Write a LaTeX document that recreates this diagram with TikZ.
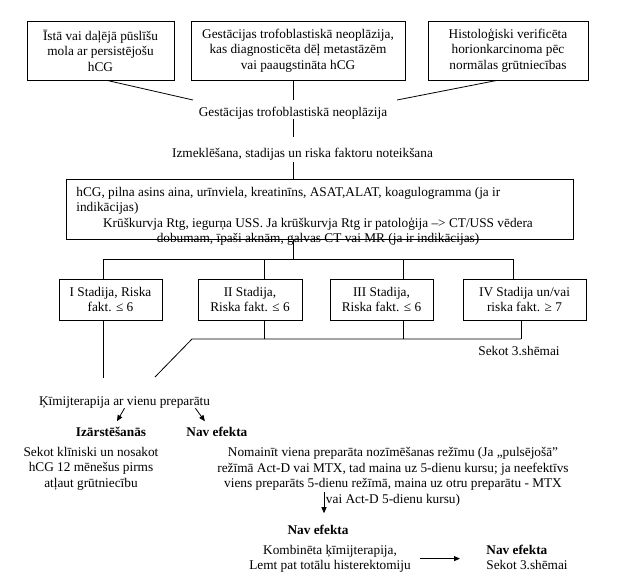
\documentclass[tikz,border=0pt]{standalone}
\usepackage{fontspec}
\setmainfont{Liberation Serif}[BoldFont={Liberation Serif Bold}]
\usetikzlibrary{arrows.meta,calc}
\begin{document}
\begin{tikzpicture}[x=1pt,y=-1pt,line width=0.8pt,
  every node/.style={font=\fontsize{13.3}{15.5}\selectfont,inner sep=0pt},
  box/.style={draw,align=center},
  tx/.style={align=center},
  bld/.style={font=\fontsize{13.3}{15.5}\selectfont\bfseries},
  arr/.style={-{Triangle[length=6pt,width=5pt]}}]
\fill[white] (0,0) rectangle (618,579);
\useasboundingbox (0,0) rectangle (618,579);

% top boxes
\node[box,minimum width=147,minimum height=59] (b1) at (100.5,50.5) {Īstā vai daļējā pūslīšu\\mola ar persistējošu\\hCG};
\node[box,minimum width=214,minimum height=59] (b2) at (298,50.5) {Gestācijas trofoblastiskā neoplāzija,\\kas diagnosticēta dēļ metastāzēm\\vai paaugstināta hCG};
\node[box,minimum width=160,minimum height=59] (b3) at (508,50.5) {Histoloģiski verificēta\\horionkarcinoma pēc\\normālas grūtniecības};

\node[anchor=base] (gtn) at (293,116) {Gestācijas trofoblastiskā neoplāzija};
\coordinate (j1) at (193,100);
\coordinate (j2) at (293,100);
\coordinate (j3) at (397,100);
\draw ([xshift=6.5pt]b1.south) -- (j1);
\draw (b2.south -| j2) -- (j2);
\draw ([xshift=-11pt]b3.south) -- (j3);

\node[anchor=base] (izm) at (302.5,157) {Izmeklēšana, stadijas un riska faktoru noteikšana};
\draw (gtn.south) -- ++(0,18);
\node[draw,minimum width=507,minimum height=60] (exam) at (319.5,209) {};
\draw (exam.north -| gtn.south) -- ++(0,-17);
\node[anchor=base west] (e1) at (76,196) {hCG, pilna asins aina, urīnviela, kreatinīns, ASAT,ALAT, koagulogramma (ja ir};
\node[anchor=base west] (e2) at (76,211.5) {indikācijas)};
\node[anchor=base] (e3) at (318,227) {Krūškurvja Rtg, iegurņa USS. Ja krūškurvja Rtg ir patoloģija –> CT/USS vēdera};
\node[anchor=base] (e4) at (318,242.5) {dobumam, īpaši aknām, galvas CT vai MR (ja ir indikācijas)};

% bus to stages
\coordinate (bl) at (103,259);
\coordinate (br) at (513,259);
\draw (exam.south -| gtn.south) -- (bl -| gtn.south);
\draw (bl) -- (br);
\node[box,minimum width=103,minimum height=41] (s1) at (110.5,299.5) {I Stadija, Riska\\fakt. ≤ 6};
\node[box,minimum width=104,minimum height=41] (s2) at (250,299.5) {II Stadija,\\Riska fakt. ≤ 6};
\node[box,minimum width=103,minimum height=41] (s3) at (381.5,299.5) {III Stadija,\\Riska fakt. ≤ 6};
\node[box,minimum width=123,minimum height=41] (s4) at (524.5,299.5) {IV Stadija un/vai\\riska fakt. ≥ 7};
\draw (bl) -- (bl |- s1.north);
\draw ([xshift=14pt]s2.north) -- ++(0,-20);
\draw ([xshift=21.5pt]s3.north) -- ++(0,-20);
\draw (br) -- (br |- s4.north);

% lower bus
\coordinate (lb) at (192,339);
\coordinate (lr) at (521,339);
\coordinate (dg) at (155,377);
\draw ([xshift=-7.5pt]s1.south) -- ++(0,58);
\draw ([xshift=14pt]s2.south) -- ++(0,19);
\draw ([xshift=21.5pt]s3.south) -- ++(0,19);
\draw ([xshift=-3.5pt]s4.south) -- ++(0,19);
\draw (dg) -- (lb) -- (lr);

\node[anchor=base] (sek1) at (519,355) {Sekot 3.shēmai};
\node[anchor=base] (chem) at (124.5,405) {Ķīmijterapija ar vienu preparātu};
\node[bld,anchor=base] (izr) at (111,436) {Izārstēšanās};
\node[bld,anchor=base west] (nav1) at (186,436) {Nav efekta};
\draw[arr] (chem.south) -- ($(izr.north)+(6,-5)$);
\draw[arr] ($(chem.south east)+(-15,0)$) -- ($(nav1.north)+(-12,-5)$);

\node[tx] (skl) at (91,468.4) {Sekot klīniski un nosakot\\hCG 12 mēnešus pirms\\atļaut grūtniecību};
\node[tx] (nom) at (393,476.9) {Nomainīt viena preparāta nozīmēšanas režīmu (Ja „pulsējošā”\\režīmā Act-D vai MTX, tad maina uz 5-dienu kursu; ja neefektīvs\\viens preparāts 5-dienu režīmā, maina uz otru preparātu - MTX\\vai Act-D 5-dienu kursu)};
\node[bld,anchor=base] (nav2) at (318,534) {Nav efekta};
\draw[arr] ($(nav2.north)+(6,-32)$) -- ($(nav2.north)+(6,-11)$);
\node[tx] (kom) at (330,558.6) {Kombinēta ķīmijterapija,\\Lemt pat totālu histerektomiju};
\node[bld,anchor=base west] (nav3) at (486,554) {Nav efekta};
\node[anchor=base west] (sek2) at (486,569.5) {Sekot 3.shēmai};
\coordinate (a3e) at (460,558);
\draw[arr] ($(kom.east)+(9,0)$) -- (kom.east -| a3e);
\end{tikzpicture}
\end{document}
